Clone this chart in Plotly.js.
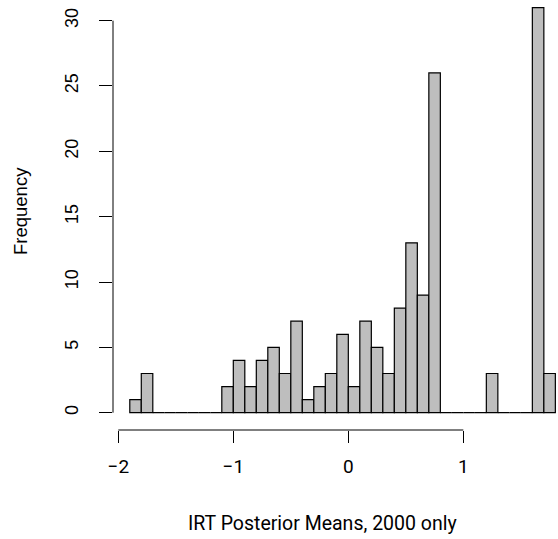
<!DOCTYPE html>
<html>
<head>
<meta charset="utf-8">
<script src="https://cdn.plot.ly/plotly-3.0.1.min.js"></script>
<style>html,body{margin:0;padding:0;background:#fff;}#chart{width:558px;height:539px;}</style>
</head>
<body>
<div id="chart"></div>
<script>
// Histogram bins (left edges, width 0.1) and counts
const binLeft = [-1.9,-1.8,-1.7,-1.6,-1.5,-1.4,-1.3,-1.2,-1.1,-1.0,-0.9,-0.8,-0.7,-0.6,-0.5,-0.4,-0.3,-0.2,-0.1,0.0,0.1,0.2,0.3,0.4,0.5,0.6,0.7,0.8,0.9,1.0,1.1,1.2,1.3,1.4,1.5,1.6,1.7];
const counts  = [1,3,0,0,0,0,0,0,2,4,2,4,5,3,7,1,2,3,6,2,7,5,3,8,13,9,26,0,0,0,0,3,0,0,0,31,3];
const binWidth = 0.1;
const xTicks = [-2,-1,0,1];
const yTicks = [0,5,10,15,20,25,30];
const xTitle = "IRT Posterior Means, 2000 only";
const yTitle = "Frequency";

const trace = {
  type: 'bar',
  x: binLeft,
  y: counts,
  width: binLeft.map(() => binWidth),
  offset: 0,
  marker: {color: '#BEBEBE', line: {color: '#000000', width: 1.2}},
  hoverinfo: 'x+y'
};

const layout = {
  width: 558, height: 539,
  margin: {l: 113, r: 0, t: 0, b: 109, pad: 0},
  paper_bgcolor: '#ffffff', plot_bgcolor: '#ffffff',
  showlegend: false,
  bargap: 0,
  font: {family: 'Liberation Sans, Arial, sans-serif', color: '#000'},
  xaxis: {
    range: [-2.046, 1.823],
    tickvals: xTicks, ticktext: xTicks.map(v => v < 0 ? '\u2212' + Math.abs(v) : String(v)),
    ticks: 'outside', ticklen: 12, tickwidth: 1, tickcolor: '#000',
    showline: false, showgrid: false, zeroline: false,
    tickfont: {family: 'Roboto, Liberation Sans, sans-serif', size: 19, color: '#000'},
    ticklabelstandoff: 7
  },
  yaxis: {
    range: [-1.324, 31.58],
    tickvals: yTicks, ticktext: yTicks.map(String),
    ticks: 'outside', ticklen: 13, tickwidth: 1, tickcolor: '#000',
    tickangle: -90,
    showline: false, showgrid: false, zeroline: false,
    tickfont: {family: 'Liberation Sans, Arial, sans-serif', size: 18, color: '#000'},
    ticklabelstandoff: 14
  },
  annotations: [
    {text: xTitle, xref: 'paper', yref: 'paper', x: (322 - 113) / 445, y: -(523 - 430) / 430,
     xanchor: 'center', yanchor: 'middle', showarrow: false,
     font: {family: 'Roboto, Liberation Sans, sans-serif', size: 19.5, color: '#000'}},
    {text: yTitle, xref: 'paper', yref: 'paper', x: -(113 - 20) / 445, y: (430 - 211) / 430,
     xanchor: 'center', yanchor: 'middle', showarrow: false, textangle: -90,
     font: {family: 'Liberation Sans, Arial, sans-serif', size: 18.5, color: '#000'}}
  ],
  shapes: [
    {type: 'line', xref: 'x', yref: 'paper', x0: xTicks[0], x1: xTicks[xTicks.length-1], y0: 0, y1: 0, line: {color: '#000', width: 1}},
    {type: 'line', xref: 'paper', yref: 'y', x0: 0, x1: 0, y0: yTicks[0], y1: yTicks[yTicks.length-1], line: {color: '#000', width: 1}}
  ]
};

Plotly.newPlot('chart', [trace], layout, {displayModeBar: false, staticPlot: true});
</script>
</body>
</html>
